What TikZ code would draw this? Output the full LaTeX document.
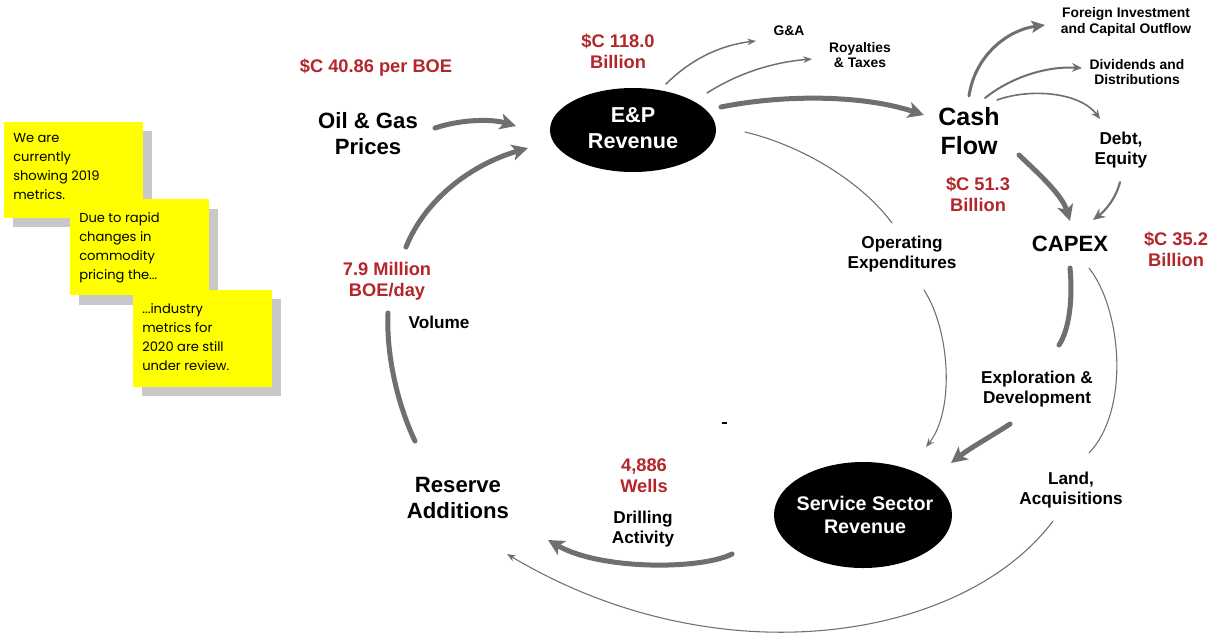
\documentclass[tikz,border=0pt]{standalone}
\usepackage{fontspec}
\setmainfont{Liberation Sans}
\newfontfamily\notefont{Poppins}
\usetikzlibrary{arrows.meta,shapes.geometric}
\definecolor{arrowgray}{HTML}{6F6F6F}
\definecolor{valred}{HTML}{B3262B}
\definecolor{noteyellow}{HTML}{FFFF00}
\definecolor{noteshadow}{HTML}{C8C8C8}
\begin{document}
\begin{tikzpicture}[x=0.75pt,y=-0.75pt,
  txt/.style={align=center, inner sep=0pt, outer sep=0pt},
  biglbl/.style={txt, font=\bfseries\fontsize{16.6}{19.5}\selectfont},
  cashlbl/.style={txt, font=\bfseries\fontsize{18.75}{21.75}\selectfont},
  midlbl/.style={txt, font=\bfseries\fontsize{12.9}{14.6}\selectfont},
  smalllbl/.style={txt, font=\bfseries\fontsize{10.4}{11.8}\selectfont},
  vallbl/.style={txt, text=valred, font=\bfseries\fontsize{13.7}{15.8}\selectfont},
  oval/.style={ellipse, fill=black, draw=none, inner sep=0pt},
  ovaltext/.style={txt, text=white},
  note/.style={fill=noteyellow, draw=none},
  noteshade/.style={fill=noteshadow, draw=none},
  notetext/.style={anchor=north west, align=left, inner sep=0pt, font=\notefont\fontsize{9.8}{14.25}\selectfont},
  conn/.style={draw=arrowgray, line cap=round},
  heavy/.style={conn, line width=3.75pt},
  heavyarrow/.style={heavy, -{Stealth[length=12pt,width=12pt,inset=3pt]}},
  thinline/.style={conn, line width=0.8pt},
  thinarrow/.style={conn, line width=1.1pt, -{Stealth[length=6.5pt,width=5pt]}}
]
\useasboundingbox (0,0) rectangle (1209,636);
\fill[white] (0,0) rectangle (1209,636);

% sticky notes
\fill[noteshade] (13,131) rectangle (152,227);
\fill[note] (4,122) rectangle (143,218);
\node[notetext] (n1) at (13,133) {We are\\currently\\showing 2019\\metrics.};
\fill[noteshade] (79,209) rectangle (218,305);
\fill[note] (70,199) rectangle (209,295);
\node[notetext] (n2) at (79,212) {Due to rapid\\changes in\\commodity\\pricing the...};
\fill[noteshade] (142,299) rectangle (281,396);
\fill[note] (133,290) rectangle (272,387);
\node[notetext] (n3) at (142,303) {...industry\\metrics for\\2020 are still\\under review.};

% main nodes
\node[oval, minimum width=124.5pt, minimum height=63pt] (ep) at (633,130) {};
\node[ovaltext, font=\bfseries\fontsize{16.2}{19.5}\selectfont] (eptxt) at (633,128.5) {E\&P\\Revenue};
\node[oval, minimum width=133.5pt, minimum height=79.5pt] (ss) at (863,515) {};
\node[ovaltext, font=\bfseries\fontsize{14.75}{17.25}\selectfont] (sstxt) at (865,515) {Service Sector\\Revenue};

\node[biglbl] (oil) at (368,134) {Oil \& Gas\\Prices};
\node[biglbl] (res) at (458,498) {Reserve\\Additions};
\node[cashlbl] (cash) at (969,131) {Cash\\Flow};
\node[biglbl] (capex) at (1070,244) {CAPEX};

\node[vallbl] (v4086) at (376,68) {\$C 40.86 per BOE};
\node[vallbl] (v118) at (618,51) {\$C 118.0\\Billion};
\node[vallbl] (v513) at (978,194) {\$C 51.3\\Billion};
\node[vallbl] (v352) at (1176,249) {\$C 35.2\\Billion};
\node[vallbl] (v79) at (387,281) {7.9 Million\\BOE/day};
\node[vallbl] (v4886) at (644,476) {4,886\\Wells};

\node[midlbl] (opex) at (902,254) {Operating\\Expenditures};
\node[midlbl] (explo) at (1037,389) {Exploration \&\\Development};
\node[midlbl] (land) at (1071,490) {Land,\\Acquisitions};
\node[midlbl] (debt) at (1121,150) {Debt,\\Equity};
\node[midlbl] (drill) at (643,529) {Drilling\\Activity};
\node[midlbl] (vol) at (439,322) {Volume};

\node[smalllbl] (ga) at (789,31) {G\&A};
\node[smalllbl] (roy) at (860,55) {Royalties\\\& Taxes};
\node[smalllbl] (forn) at (1126,22) {Foreign Investment\\and Capital Outflow};
\node[smalllbl] (div) at (1137,72) {Dividends and\\Distributions};

% connector end points
\coordinate (oilOut) at (435,128);
\coordinate (epInA) at (516,126);
\coordinate (volTop) at (406,247);
\coordinate (epInB) at (528,148);
\coordinate (resTop) at (415,441);
\coordinate (volBot) at (388,313);
\coordinate (epOutCash) at (721,107);
\coordinate (cashIn) at (924,115);
\coordinate (cashOutCap) at (1019,155);
\coordinate (capInA) at (1070,221);
\coordinate (capOut) at (1070,268);
\coordinate (exploTop) at (1059,345);
\coordinate (exploOut) at (1010,424);
\coordinate (ssInA) at (951,463);
\coordinate (ssOutDrill) at (732,554);
\coordinate (resInA) at (548,540);
\coordinate (epOutGA) at (666,84);
\coordinate (gaIn) at (756,41);
\coordinate (epOutRoy) at (707,93);
\coordinate (royIn) at (812,59);
\coordinate (cashOutF) at (969,96);
\coordinate (fornIn) at (1045,25);
\coordinate (cashOutD) at (985,98);
\coordinate (divIn) at (1082,68);
\coordinate (cashOutE) at (997,100);
\coordinate (debtIn) at (1100,119);
\coordinate (debtOut) at (1120,182);
\coordinate (capInB) at (1093,220);
\coordinate (epOutOp) at (745,132);
\coordinate (opexIn) at (892,223);
\coordinate (opexOut) at (924,290);
\coordinate (ssInB) at (926,447);
\coordinate (capOutL) at (1089,268);
\coordinate (landIn) at (1089,453);
\coordinate (landOut) at (1053,521);
\coordinate (resInB) at (507,554);

% heavy arrows
\draw[heavyarrow] (oilOut) .. controls (462,119) and (492,119) .. (epInA);
\draw[heavyarrow] (volTop) .. controls (425,200) and (470,165) .. (epInB);
\draw[heavy] (volBot) .. controls (386,360) and (400,410) .. (resTop);
\draw[heavyarrow] (epOutCash) .. controls (780,95) and (860,94) .. (cashIn);
\draw[heavyarrow] (cashOutCap) .. controls (1040,175) and (1062,195) .. (capInA);
\draw[heavy] (capOut) .. controls (1073,300) and (1069,330) .. (exploTop);
\draw[heavyarrow] (exploOut) .. controls (990,437) and (970,448) .. (ssInA);
\draw[heavyarrow] (ssOutDrill) .. controls (700,570) and (600,570) .. (resInA);

% lighter arrows
\draw[thinarrow] (epOutGA) .. controls (690,60) and (720,45) .. (gaIn);
\draw[thinarrow] (epOutRoy) .. controls (740,72) and (775,62) .. (royIn);
\draw[conn, line width=2.25pt, -{Stealth[length=10pt,width=9pt,inset=2pt]}] (cashOutF) .. controls (975,55) and (1008,30) .. (fornIn);
\draw[conn, line width=1.5pt, -{Stealth[length=7.5pt,width=6.5pt]}] (cashOutD) .. controls (1010,78) and (1045,66) .. (divIn);
\draw[conn, line width=1.2pt, -{Stealth[length=7pt,width=6pt]}] (cashOutE) .. controls (1030,88) and (1080,92) .. (debtIn);
\draw[conn, line width=1.6pt, -{Stealth[length=9pt,width=8pt]}] (debtOut) .. controls (1116,198) and (1106,210) .. (capInB);
\draw[thinline] (epOutOp) .. controls (800,145) and (860,180) .. (opexIn);
\draw[thinline, -{Stealth[length=6.5pt,width=5pt]}] (opexOut) .. controls (950,330) and (955,410) .. (ssInB);
\draw[thinline] (capOutL) .. controls (1122,310) and (1130,410) .. (landIn);
\draw[thinline, -{Stealth[length=6.5pt,width=5pt]}] (landOut) .. controls (963,641) and (718,680) .. (resInB);

% small stray mark
\draw[black, line width=0.9pt] (722,423) -- (727,423);
\end{tikzpicture}
\end{document}
